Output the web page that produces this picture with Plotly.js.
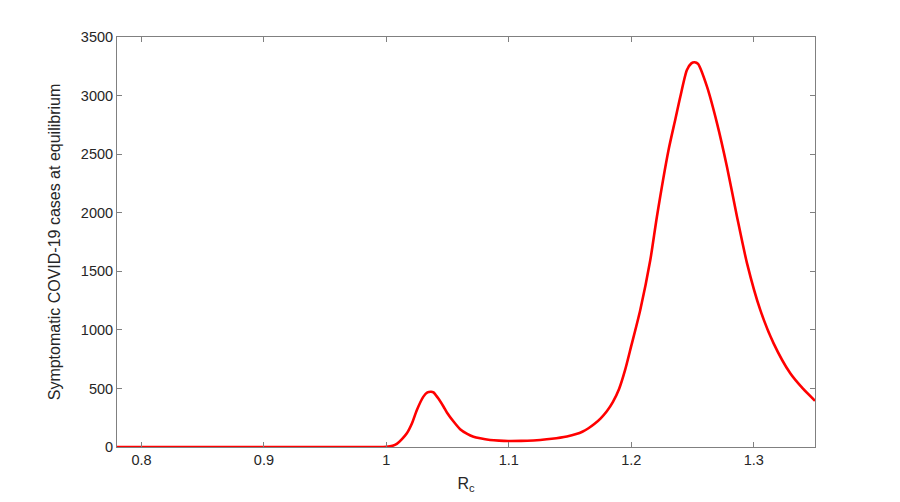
<!DOCTYPE html>
<html>
<head>
<meta charset="utf-8">
<script src="https://cdn.plot.ly/plotly-3.0.1.min.js"></script>
<style>
  body { margin: 0; background: #fff; }
  #myDiv { width: 900px; height: 502px; }
</style>
</head>
<body>
<div id="myDiv"></div>
<script>
// reproduction number values along the x axis
var rc = [0.78, 0.85, 0.9, 0.95, 0.99, 1.0, 1.005, 1.0085, 1.0125, 1.0167,
  1.021, 1.0249, 1.0302, 1.0335, 1.0365, 1.0384, 1.042, 1.0467, 1.0494, 1.055,
  1.0602, 1.066, 1.0711, 1.0766, 1.0847, 1.092, 1.0994, 1.11, 1.12, 1.1256,
  1.135, 1.1474, 1.155, 1.16, 1.165, 1.17, 1.175, 1.18, 1.185, 1.19, 1.195,
  1.2, 1.2073, 1.2155, 1.2209, 1.2304, 1.236, 1.24, 1.2454, 1.249, 1.2517, 1.2545,
  1.2618, 1.27, 1.2781, 1.2863, 1.2945, 1.3053, 1.3162, 1.3298, 1.34, 1.35];

// symptomatic cases at equilibrium
var cases = [0, 0, 0, 0, 0, 2, 10, 26, 65, 117,
  205, 316, 430, 466, 472, 466, 420, 344, 295, 215,
  152, 112, 88, 74, 60, 54, 51, 52, 56, 60,
  70, 90, 110, 130, 160, 198, 245, 305, 385, 495, 660,
  865, 1170, 1596, 1966, 2535, 2800, 2990, 3218, 3275, 3285, 3270,
  3076, 2763, 2393, 1966, 1568, 1170, 885, 629, 500, 395];

var curve = {
  x: rc,
  y: cases,
  type: 'scatter',
  mode: 'lines',
  line: { color: 'rgb(255,0,0)', width: 2.6, shape: 'spline', smoothing: 0.7 },
  hoverinfo: 'skip'
};

var axisLine = 'rgb(128,128,128)';

var layout = {
  width: 900,
  height: 502,
  margin: { l: 117, r: 85, t: 37, b: 55 },
  paper_bgcolor: 'white',
  plot_bgcolor: 'white',
  showlegend: false,
  font: { family: 'Liberation Sans, Arial, sans-serif', size: 14.5, color: 'rgb(38,38,38)' },
  xaxis: {
    range: [0.78, 1.35],
    tick0: 0.8,
    dtick: 0.1,
    ticks: 'inside',
    ticklen: 5,
    tickcolor: axisLine,
    showline: true,
    linecolor: axisLine,
    linewidth: 1,
    mirror: 'ticks',
    showgrid: false,
    zeroline: false,
    title: { text: 'R<sub>c</sub>', font: { size: 16 }, standoff: 10 }
  },
  yaxis: {
    range: [0, 3500],
    dtick: 500,
    ticks: 'inside',
    ticklen: 5,
    tickcolor: axisLine,
    showline: true,
    linecolor: axisLine,
    linewidth: 1,
    mirror: 'ticks',
    showgrid: false,
    zeroline: false,
    title: { text: 'Symptomatic COVID-19 cases at equilibrium', font: { size: 16 }, standoff: 16 }
  }
};

Plotly.newPlot('myDiv', [curve], layout, { staticPlot: true });
</script>
</body>
</html>
